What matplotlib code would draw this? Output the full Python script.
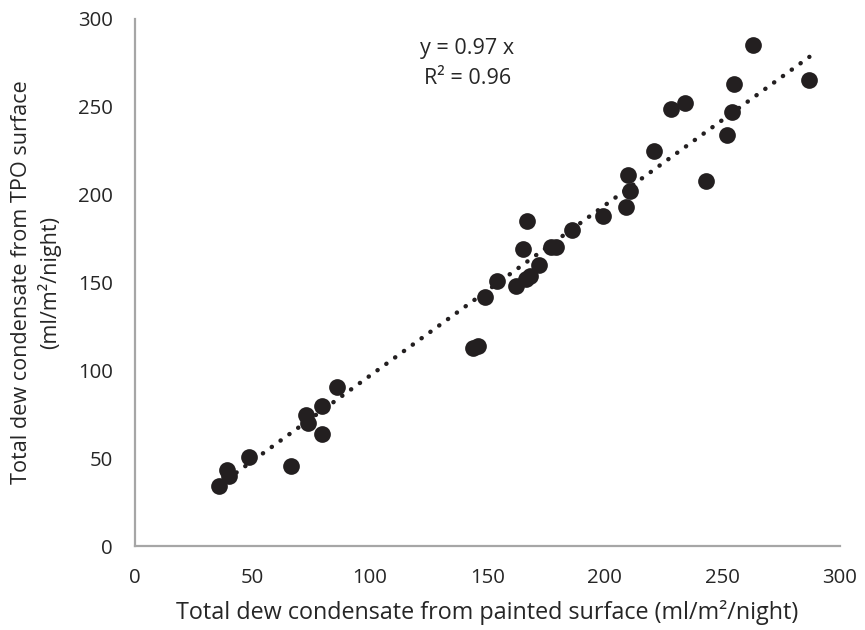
import numpy as np
import matplotlib
matplotlib.use("Agg")
import matplotlib.pyplot as plt

plt.rcParams['font.family'] = ['Open Sans', 'DejaVu Sans']

# painted surface (x) vs TPO surface (y), ml/m2/night
painted = [35.7, 39.0, 40.0, 48.5, 66.5, 72.8, 73.6, 79.6, 79.6, 86.0,
           144.0, 146.0, 149.0, 154.0, 162.0, 165.0, 166.5, 168.0, 167.0, 172.0,
           177.0, 179.0, 186.0, 199.0, 209.0, 209.8, 210.6, 221.0, 228.0, 234.0,
           243.0, 252.0, 254.0, 255.0, 263.0, 287.0]
tpo = [34.5, 43.5, 40.0, 50.5, 45.5, 74.5, 70.0, 79.5, 64.0, 90.5,
       113.0, 114.0, 142.0, 151.0, 148.0, 169.0, 152.0, 153.5, 185.0, 160.0,
       170.5, 170.5, 180.0, 188.0, 193.0, 211.0, 202.0, 225.0, 248.5, 252.0,
       208.0, 234.0, 247.0, 263.0, 285.0, 265.0]
slope = 0.97
r2 = 0.96
ticks = [0, 50, 100, 150, 200, 250, 300]

fig = plt.figure(figsize=(8.65, 6.3), dpi=100)
ax = fig.add_axes([0.156, 0.133, 0.815, 0.837])

x = np.array(painted)
y = np.array(tpo)
ax.scatter(x, y, s=145, color='#231f20', zorder=3, linewidths=0)

# trend line through origin, over the data range
xl = np.array([x.min(), x.max()])
ax.plot(xl, slope * xl, color='#231f20', lw=3.2, linestyle=(0, (0.05, 2.4)),
        dash_capstyle='round', zorder=2)

ax.text(141.5, 283, f'y = {slope} x', ha='center', va='center', fontsize=15.5, color='#262626')
ax.text(141.5, 266, f'R² = {r2}', ha='center', va='center', fontsize=15.5, color='#262626')

ax.set_xlim(0, 300)
ax.set_ylim(0, 300)
ax.set_xticks(ticks)
ax.set_yticks(ticks)
ax.tick_params(length=0, labelsize=14.7, pad=16, colors='#262626')

for side in ['top', 'right']:
    ax.spines[side].set_visible(False)
for side in ['left', 'bottom']:
    ax.spines[side].set_color('#a6a6a6')
    ax.spines[side].set_linewidth(1.6)

ax.set_xlabel('Total dew condensate from painted surface (ml/m²/night)', fontsize=16.8,
              color='#262626', labelpad=8)
ax.set_ylabel('Total dew condensate from TPO surface\n(ml/m²/night)', fontsize=15.6,
              color='#262626', labelpad=12, linespacing=1.25)

fig.savefig('out.png', dpi=100)
